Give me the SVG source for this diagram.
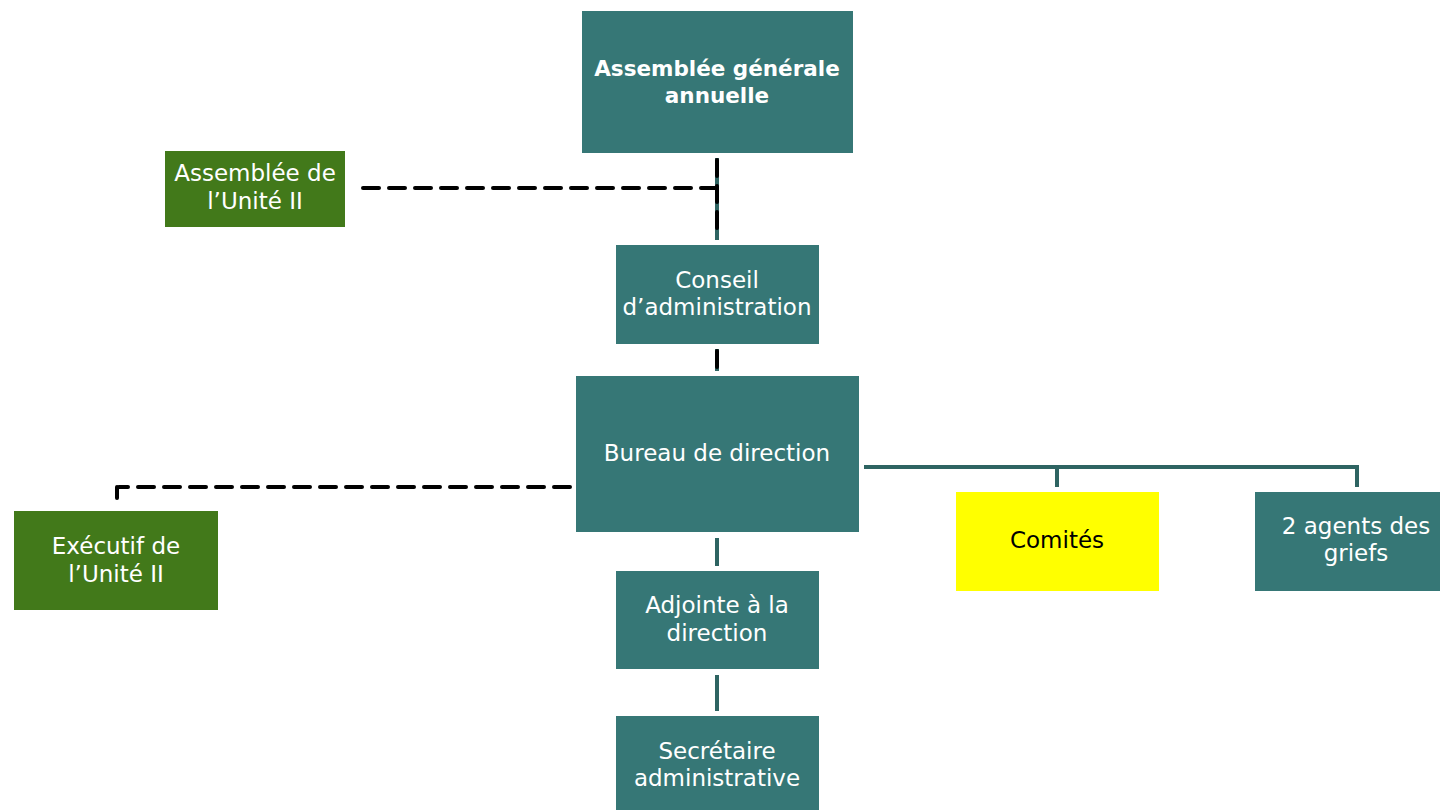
<svg xmlns="http://www.w3.org/2000/svg" width="1440" height="810" viewBox="0 0 1440 810">
<style>
.teal{fill:#367776}
.green{fill:#42791A}
.yellow{fill:#FFFF00}
text{font-family:"DejaVu Sans","Liberation Sans",sans-serif;font-size:23px;fill:#FFFFFF;text-anchor:middle}
.b{font-weight:bold;font-size:21.5px}
.dk{fill:#000000}
.solid{stroke:#2E6462;stroke-width:4;fill:none}
.dash{stroke:#000000;stroke-width:4;fill:none;stroke-dasharray:16,10;stroke-linecap:round}
</style>
<rect width="1440" height="810" fill="#FFFFFF"/>
<g id="connectors">
<line class="solid" x1="717" y1="158" x2="717" y2="240"/>
<line class="dash" x1="717" y1="160" x2="717" y2="238" stroke-dasharray="18,8"/>
<line class="dash" x1="717" y1="188" x2="360" y2="188"/>
<line class="solid" x1="717" y1="349" x2="717" y2="371"/>
<line class="dash" x1="717" y1="351" x2="717" y2="369"/>
<line class="dash" x1="570" y1="487" x2="119" y2="487"/>
<line class="dash" x1="117" y1="487" x2="117" y2="498" stroke-dasharray="none"/>
<polyline class="solid" points="864,467 1357,467 1357,487"/>
<line class="solid" x1="1057" y1="467" x2="1057" y2="487"/>
<line class="solid" x1="717" y1="538" x2="717" y2="566"/>
<line class="solid" x1="717" y1="675" x2="717" y2="711"/>
</g>
<g id="aga">
<rect class="teal" x="582" y="11" width="271" height="142"/>
<text class="b" x="717" y="76">Assemblée générale</text>
<text class="b" x="717" y="103">annuelle</text>
</g>
<g id="assemblee-unite">
<rect class="green" x="165" y="151" width="180" height="76"/>
<text x="255" y="181">Assemblée de</text>
<text x="255" y="209">l’Unité II</text>
</g>
<g id="conseil">
<rect class="teal" x="616" y="245" width="203" height="99"/>
<text x="717" y="288">Conseil</text>
<text x="717" y="315">d’administration</text>
</g>
<g id="bureau">
<rect class="teal" x="576" y="376" width="283" height="156"/>
<text x="717" y="461">Bureau de direction</text>
</g>
<g id="executif">
<rect class="green" x="14" y="511" width="204" height="99"/>
<text x="116" y="554">Exécutif de</text>
<text x="116" y="582">l’Unité II</text>
</g>
<g id="comites">
<rect class="yellow" x="956" y="492" width="203" height="99"/>
<text class="dk" x="1057" y="548">Comités</text>
</g>
<g id="agents">
<rect class="teal" x="1255" y="492" width="203" height="99"/>
<text x="1356" y="534">2 agents des</text>
<text x="1356" y="561">griefs</text>
</g>
<g id="adjointe">
<rect class="teal" x="616" y="571" width="203" height="98"/>
<text x="717" y="613">Adjointe à la</text>
<text x="717" y="641">direction</text>
</g>
<g id="secretaire">
<rect class="teal" x="616" y="716" width="203" height="94"/>
<text x="717" y="759">Secrétaire</text>
<text x="717" y="786">administrative</text>
</g>
</svg>
